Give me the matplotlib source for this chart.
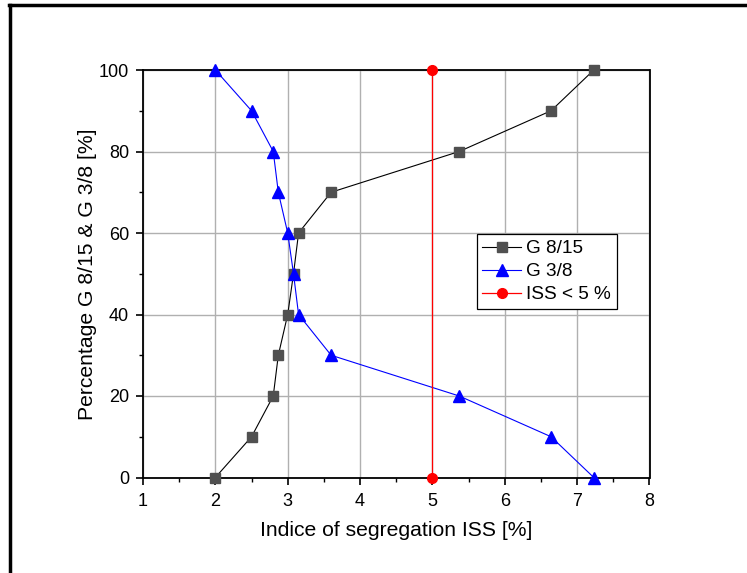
import matplotlib
matplotlib.use("Agg")
import matplotlib.pyplot as plt
from matplotlib.ticker import MultipleLocator
from matplotlib.lines import Line2D

plt.rcParams['font.family'] = ['Liberation Sans', 'DejaVu Sans']

iss = [2.0, 2.5, 2.8, 2.87, 3.0, 3.08, 3.15, 3.6, 5.37, 6.64, 7.23]
g815 = [0, 10, 20, 30, 40, 50, 60, 70, 80, 90, 100]
g38 = [100, 90, 80, 70, 60, 50, 40, 30, 20, 10, 0]
limit_x = [5, 5]
limit_y = [0, 100]

fig = plt.figure(figsize=(7.47, 5.73), dpi=100)
ax = fig.add_axes([143/747, 1-477.5/573, (649.5-143)/747, (477.5-70)/573])

ax.plot(iss, g815, color='black', lw=0.8, marker='s', markersize=7,
        markerfacecolor='#505050', markeredgecolor='#505050', label='G 8/15', zorder=3, clip_on=False)
ax.plot(iss, g38, color='blue', lw=0.8, marker='^', markersize=9,
        markerfacecolor='blue', markeredgecolor='blue', label='G 3/8', zorder=3, clip_on=False)
ax.plot(limit_x, limit_y, color='red', lw=0.9, marker='o', markersize=7,
        markerfacecolor='red', markeredgecolor='red', label='ISS < 5 %', zorder=3, clip_on=False)

ax.set_xlim(1, 8)
ax.set_ylim(0, 100)
ax.xaxis.set_major_locator(MultipleLocator(1))
ax.xaxis.set_minor_locator(MultipleLocator(0.5))
ax.yaxis.set_major_locator(MultipleLocator(20))
ax.yaxis.set_minor_locator(MultipleLocator(10))
ax.tick_params(which='major', direction='out', length=5, width=1.2, labelsize=13, top=False, right=False)
ax.tick_params(axis='x', which='major', pad=6)
ax.tick_params(axis='y', which='major', pad=5)
ax.tick_params(which='minor', direction='out', length=3, width=1.0, top=False, right=False)
ax.grid(True, which='major', color='#b0b0b0', lw=1.0, zorder=0)
ax.set_axisbelow(True)
for s in ax.spines.values():
    s.set_linewidth(1.3)

ax.set_xlabel('Indice of segregation ISS [%]', fontsize=15.2, labelpad=8)
ax.set_ylabel('Percentage G 8/15 & G 3/8 [%]', fontsize=15.2, labelpad=1)

leg = ax.legend(loc='upper left', bbox_to_anchor=(0.659, 0.597), fontsize=13.7,
                frameon=True, fancybox=False, edgecolor='black', framealpha=1,
                handlelength=2.0, handletextpad=0.3, borderpad=0.3, labelspacing=0.3,
                borderaxespad=0)
leg.get_frame().set_linewidth(0.9)

fig.add_artist(Line2D([10/747, 10/747], [0, 1-5/573], transform=fig.transFigure, color='black', lw=2.5))
fig.add_artist(Line2D([9/747, 1], [1-5/573, 1-5/573], transform=fig.transFigure, color='black', lw=2.5))

fig.savefig('out.png', dpi=100)
